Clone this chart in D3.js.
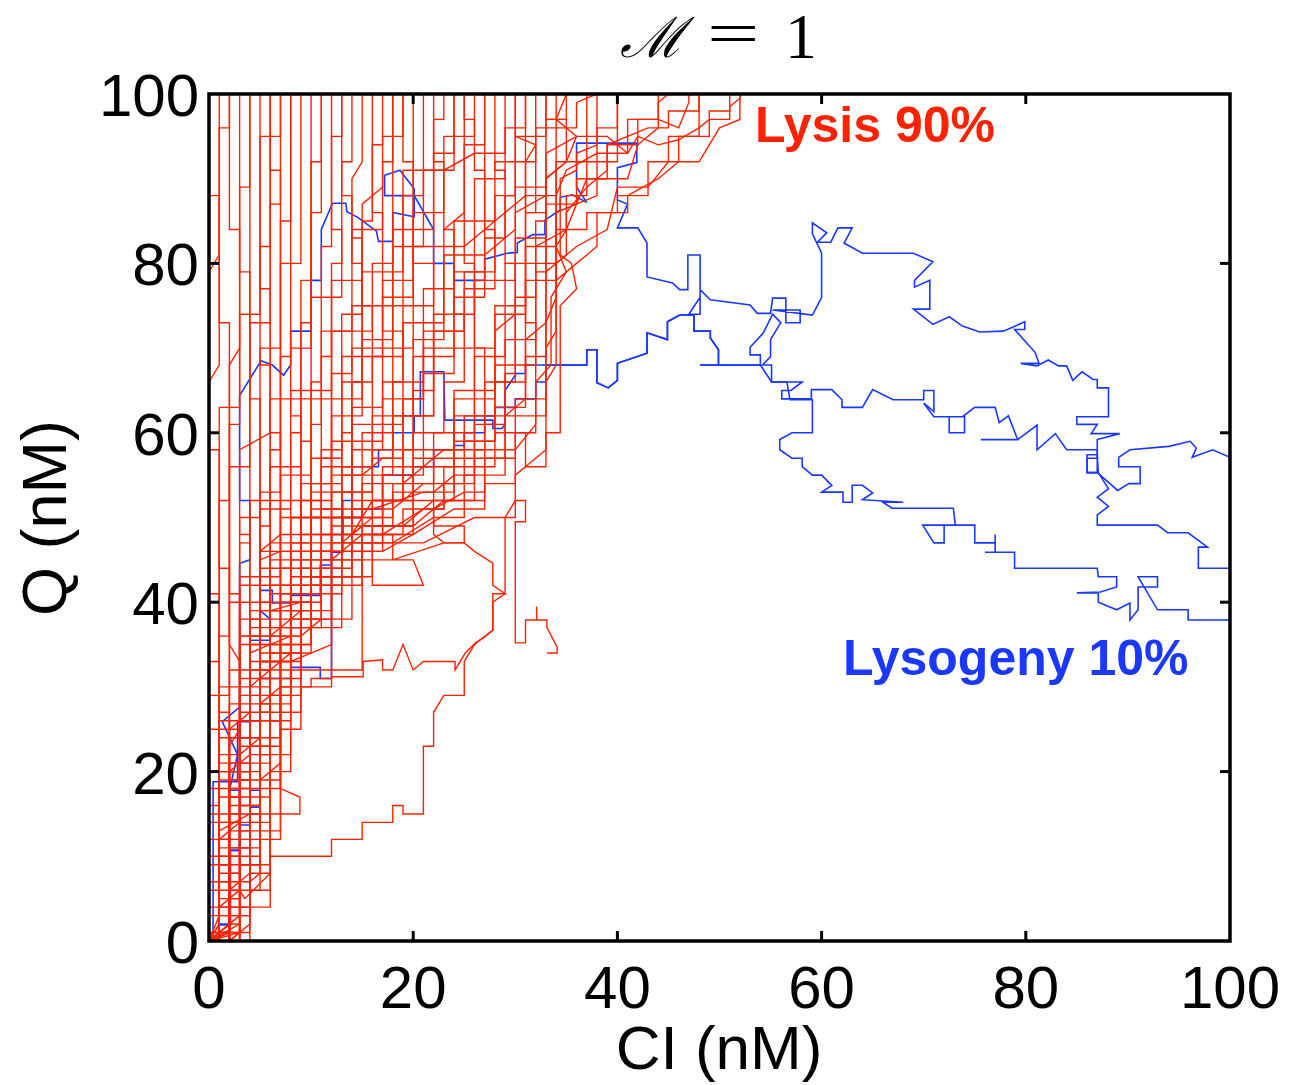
<!DOCTYPE html>
<html>
<head>
<meta charset="utf-8">
<script src="https://cdn.jsdelivr.net/npm/d3@7"></script>
<style>
  body { margin: 0; background: #fff; }
  text { font-family: "Liberation Sans", Arial, sans-serif; }
</style>
</head>
<body>
<script>
// axis ticks and labels
var xTicks = [0, 20, 40, 60, 80, 100];
var yTicks = [0, 20, 40, 60, 80, 100];
var xLabel = "CI (nM)";
var yLabel = "Q (nM)";
var legendLabels = ["Lysis 90%", "Lysogeny 10%"];

// trajectories, flat [CI, Q, CI, Q, ...] lists
var redPaths = [
  [0,0, 0,18, 1,18, 1,41, 0,41, 0,66, 1,68, 1,88, 0,88, 0,100],
  [0,0, 1,0, 1,9, 2,9, 2,27, 1,27, 1,52, 2,52, 2,73, 1,73, 1,100],
  [1,0, 2,0, 2,5, 3,5, 3,33, 2,35, 2,61, 3,61, 3,84, 2,84, 2,100],
  [0,0, 3,0, 3,3, 4,3, 4,21, 3,21, 3,47, 4,47, 4,79, 3,79, 3,100],
  [2,0, 3,1, 3,11, 4,11, 4,37, 5,37, 5,64, 4,64, 4,100],
  [0,1, 1,1, 1,14, 3,14, 3,16, 5,16, 5,49, 6,49, 6,77, 5,77, 5,100],
  [1,0, 1,3, 4,3, 4,7, 5,8, 5,27, 6,27, 6,58, 7,58, 7,91, 6,91, 6,100],
  [0,0, 0,7, 2,7, 2,20, 4,22, 6,22, 6,43, 7,43, 7,69, 8,69, 8,100],
  [3,0, 3,2, 2,2, 2,12, 0,12, 0,33, 1,33, 1,58, 0,58, 0,79, 1,81, 1,96, 2,96, 2,100],
  [0,0, 2,2, 2,23, 3,25, 3,41, 2,41, 2,68, 3,70, 3,89, 4,89, 4,100],
  [1,0, 1,16, 0,16, 0,29, 2,29, 2,44, 1,44, 1,63, 3,63, 3,74, 5,74, 5,95, 7,95, 7,100],
  [0,0, 4,0, 4,14, 6,14, 6,32, 5,32, 5,53, 7,53, 7,80, 9,80, 9,100],
  [2,0, 2,10, 5,10, 5,19, 7,19, 7,30, 8,30, 8,47, 10,47, 10,61, 11,61, 11,82, 12,82, 12,100],
  [0,0, 1,2, 1,24, 4,24, 4,35, 6,35, 6,47, 9,47, 9,59, 10,59, 10,76, 13,76, 13,92, 14,92, 14,100],
  [1,1, 3,1, 3,9, 6,9, 6,26, 8,26, 8,40, 10,40, 10,54, 13,54, 13,66, 15,66, 15,85, 16,85, 16,100],
  [0,0, 0,4, 4,4, 4,12, 7,12, 7,36, 9,36, 11,38, 11,57, 12,57, 12,72, 16,72, 16,80, 18,80, 18,100],
  [2,0, 2,6, 5,6, 5,22, 8,22, 8,33, 12,35, 12,49, 14,49, 14,63, 17,63, 17,78, 20,78, 20,100],
  [0,0, 3,0, 3,13, 7,13, 7,25, 9,25, 9,42, 13,42, 13,56, 16,56, 16,69, 19,69, 19,88, 21,88, 21,100],
  [1,0, 1,12, 4,12, 4,30, 8,34, 10,34, 10,45, 15,45, 15,60, 18,60, 18,75, 22,75, 22,93, 24,93, 24,100],
  [0,0, 2,1, 2,17, 6,17, 6,39, 11,39, 11,48, 14,48, 16,50, 16,58, 20,58, 20,71, 23,71, 23,84, 25,86, 25,100],
  [0,1, 4,1, 4,8, 6,8, 6,29, 9,29, 9,38, 14,38, 14,46, 17,46, 17,55, 21,55, 21,67, 24,67, 24,79, 27,79, 27,100],
  [1,0, 1,5, 3,5, 3,19, 5,19, 7,21, 7,32, 12,32, 12,43, 16,43, 16,52, 19,52, 19,62, 22,62, 22,74, 26,74, 26,90, 29,90, 29,100],
  [0,0, 0,10, 3,10, 3,29, 5,29, 5,44, 8,44, 8,52, 12,52, 12,62, 15,62, 15,71, 18,71, 18,84, 22,84, 22,97, 23,97, 23,100],
  [0,0, 2,0, 2,11, 5,11, 5,34, 9,34, 9,44, 13,44, 13,50, 18,50, 18,54, 22,54, 22,60, 26,60, 26,69, 29,69, 29,80, 31,80, 31,100],
  [1,0, 1,7, 4,7, 4,23, 7,23, 7,38, 12,38, 12,46, 17,46, 20,48, 20,56, 24,56, 24,64, 28,64, 28,72, 30,74, 30,86, 33,88, 33,97, 35,97, 35,100],
  [0,0, 1,1, 1,26, 5,26, 5,40, 10,40, 10,50, 15,50, 15,54, 19,54, 23,58, 27,58, 27,66, 31,66, 31,78, 34,78, 34,92, 37,92, 37,100],
  [2,0, 2,4, 6,4, 6,20, 8,20, 8,37, 13,37, 13,47, 18,47, 22,50, 25,50, 25,55, 29,55, 29,62, 33,62, 33,73, 34,76, 34,86, 38,88, 38,96, 40,96, 40,100],
  [0,0, 3,2, 3,27, 7,27, 7,41, 11,41, 11,51, 16,51, 21,53, 24,53, 24,59, 28,59, 28,68, 32,68, 32,82, 35,84, 37,90, 41,90, 42,94, 44,96, 44,100],
  [1,0, 1,9, 5,9, 5,31, 9,31, 9,43, 14,43, 14,49, 20,49, 23,52, 27,52, 27,57, 30,57, 30,64, 33,64, 33,70, 34,72, 34,80, 36,82, 39,84, 40,89, 43,89, 45,92, 45,95, 48,95, 48,100],
  [0,0, 2,2, 2,21, 6,21, 6,35, 10,35, 10,42, 15,42, 15,47, 21,47, 26,50, 30,50, 30,55, 33,58, 33,66, 34,68, 34,78, 36,80, 38,82, 38,86, 41,86, 41,88, 44,90, 46,92, 48,92, 50,96, 52,97, 52,100],
  [0,0, 3,0, 3,18, 6,18, 6,37, 11,37, 11,56, 14,56, 14,70, 20,70, 20,82, 25,82, 28,85, 31,88, 34,88, 35,91, 38,93, 41,93, 41,97, 44,97, 46,96, 47,99, 47,100],
  [1,0, 1,13, 4,15, 4,33, 8,33, 8,46, 12,46, 12,59, 17,59, 17,66, 21,66, 21,77, 24,77, 24,85, 28,85, 28,92, 32,92, 32,96, 36,96, 36,99, 38,100],
  [0,0, 1,1, 1,4, 3,6, 3.5,5, 6,8, 6,10, 12,10, 12,12, 15,12, 15,14, 18,14, 18,16, 19,16, 19,15, 21,15, 21,23, 22,23, 22,27, 23,29, 25,29, 25,33, 26,35, 27.8,36.7, 27.8,41, 29,41, 27.8,42, 27.8,44.6, 26,46, 25,47, 23,47, 22,48, 22,51, 25,53, 27,53, 27,57, 29,57, 29,62, 31,64, 31,71, 33,73, 33,79, 35,81, 35,86, 37,89, 39,91, 39,94, 43,96, 45,96, 45,98, 48,98, 48,100],
  [0,0, 2,1, 2,6, 4,8, 4,15, 6,15, 8.9,15, 8.9,17, 7,18, 7,27, 9,27, 9,30, 12,30, 12,31.2, 15.1,31.2, 15.1,33, 17,33.2, 17,32, 18,32, 19,35, 20,32, 21,33, 24.1,33, 24.1,32, 25.1,34, 26.1,35.2, 27,35.9, 27.8,36.7, 27.8,40, 29,41, 29,46, 29,50, 30,52, 31,52, 31,49.5, 30,49.5, 30,35.2, 31,35.2, 31,37.9, 32.1,37.9, 32.1,39.5, 32.1,37.9, 33.1,37.9, 33.1,37, 34.1,34.7, 34.1,34, 33.1,34],
  [0,0, 1,2, 1,12, 3,14, 3,22, 5,24, 5,28, 7,30, 10,30, 10,31, 12,31, 12,32, 15,32, 15,45, 20,45, 21,42, 16,42, 16,48, 18,48, 18,45, 23,47, 25,47, 25,49, 22,49, 22,53, 24,55, 26,55, 26,61, 28,61, 28,66, 30,66, 30,76, 32,76, 32,85, 33,85, 33,90, 35,92, 35,97, 33,97, 33,100],
  [0,0, 1,0, 1,15, 3,15, 3,31, 6,31, 6,45, 10,45, 10,53, 14,53, 14,61, 19,61, 19,73, 23,73, 23,81, 27,81, 30,84, 30,89, 33,89, 33,93, 36,95, 39,95, 41,93, 42,95, 44,94, 46,94.6, 48,96, 49,97, 51,97, 51,98.5, 52,99.5, 52,100],
  [0,0, 0,3, 2,3, 2,19, 4,19, 4,39, 7,39, 7,50, 11,50, 11,64, 15,64, 15,79, 19,79, 19,91, 23,91, 26,93, 29,93, 29,96, 31,96, 31,100],
  [2,0, 2,8, 3,8, 3,38, 5,38, 5,51, 8,51, 8,65, 12,65, 12,78, 15,78, 15,87, 17,89, 17,95, 19,95, 19,100],
  [0,0, 2,0, 2,16, 5,16, 5,33, 9,33, 9,41, 13,41, 13,48, 17,48, 21,51, 23,51, 23,56, 28,56, 28,60, 31,60, 31,56, 33,56, 33,60, 34.4,60, 34.4,75, 36,77, 35.5,80, 34.4,81, 34.4,90, 36,91, 36,93, 38,94, 38,100],
  [1,0, 1,6, 3,6, 3,26, 7,26, 7,35, 10,35, 10,43, 15,43, 15,49, 20,49, 20,52, 26,52, 26,58, 30,58, 32,61, 32,66, 33.5,68, 33.5,76, 35,79, 34,82, 35,84, 35,88, 37,88, 37,92, 40,92, 40,100],
  [0,0, 0,14, 2,14, 2,32, 6,32, 6,42, 9,42, 9,50, 14,50, 14,58, 17,58, 17,64, 21,64, 21,72, 25,72, 25,77, 28,77, 28,88, 30,88, 30,95, 33,95, 33,100],
  [1,0, 1,17, 3,17, 3,36, 7,36, 7,48, 10,48, 10,57, 13,57, 13,69, 17,69, 17,76, 20,76, 20,86, 23,86, 23,95, 26,95, 26,100],
  [0,0, 3,1, 3,24, 5,24, 5,46, 9,46, 9,54, 12,54, 12,67, 14,67, 14,75, 18,75, 18,82, 21,82, 21,91, 24,91, 24,100],
  [2,0, 2,13, 4,13, 4,29, 8,29, 8,39, 12,39, 12,53, 16,53, 16,62, 20,62, 20,69, 24,69, 24,76, 27,76, 27,83, 29,83, 29,91, 28,91, 28,100],
  [0,0, 1,3, 1,21, 3,21, 3,43, 6,43, 6,56, 9,56, 9,64, 11,64, 11,72, 14,72, 14,84, 17,84, 17,92, 18,92, 18,100],
  [0,0, 1,0, 1,10, 2,10, 2,25, 4,27, 4,40, 6,40, 6,52, 8,52, 8,60, 9,60, 9,62, 8,62, 8,70, 9,70, 9,73, 10,73, 10,86, 11,86, 11,100],
  [0,0, 0,6, 1,6, 1,22, 3,22, 3,36, 5,36, 5,45, 7,46, 7,55, 10,55, 10,66, 11,66, 11,69, 12,69, 12,80, 13,80, 13,84, 12,84, 12,95, 13,95, 13,100],
  [1,0, 1,4, 2,4, 2,18, 4,18, 4,32, 7,32, 7,44, 10,44, 10,51, 13,51, 13,60, 14,60, 14,66, 16,66, 16,75, 15,75, 15,83, 14,83, 14,90, 15,92, 15,100],
  [0,0, 2,0, 2,14, 5,14, 5,28, 8,28, 8,42, 11,42, 11,46, 13,46, 13,53, 16,53, 16,57, 18,57, 18,66, 19,66, 19,72, 17,72, 17,86, 16,86, 16,94, 17,94, 17,100],
  [1,0, 1,8, 3,8, 3,23, 6,23, 6,36, 9,39, 9,48, 12,48, 12,55, 15,55, 17,57, 19,57, 19,64, 21,64, 21,70, 22,70, 22,80, 20,80, 20,92, 19,92, 19,100],
  [0,0, 1,1, 1,19, 4,19, 4,34, 8,36, 8,43, 12,43, 12,47, 17,47, 17,52, 20,52, 20,60, 23,60, 23,66, 25,66, 25,74, 24,74, 24,84, 23,84, 23,92, 22,92, 22,100],
  [2,0, 2,15, 5,15, 5,37, 9,37, 9,47, 13,47, 15,49, 18,49, 18,53, 22,53, 22,58, 25,58, 25,62, 27,62, 27,70, 26,70, 26,80, 25,80, 25,94, 27,94, 27,100],
  [0,0, 0,9, 2,9, 2,28, 6,28, 6,41, 10,41, 10,46, 16,46, 16,49, 19,49, 22,52, 24,52, 24,57, 27,57, 27,61, 29,61, 29,67, 30,67, 30,80, 29,80, 29,88, 30,88, 30,100],
  [1,0, 1,11, 4,11, 4,26, 7,26, 7,40, 11,40, 11,45, 15,45, 15,48, 20,48, 24,51, 27,51, 27,54, 30,54, 30,60, 32,60, 32,73, 31,73, 31,86, 32,86, 32,100],
  [0,0, 2,1, 2,20, 5,20, 5,33, 8,33, 8,38, 11,38, 11,44, 14,44, 14,51, 18,51, 21,54, 25,54, 25,59, 28,59, 28,63, 31,63, 31,69, 33,69, 33,82, 34,82, 34,97, 35,100],
  [0,0, 0,15, 1,15, 1,30, 3,30, 3,50, 5,50, 5,70, 7,70, 7,85, 8,85, 8,100],
  [2,0, 2,3, 3,3, 3,20, 4,20, 4,52, 6,52, 6,68, 5,68, 5,82, 6,82, 6,100],
  [0,0, 1,0, 1,36, 2,36, 2,56, 4,56, 4,73, 6,73, 6,87, 7,87, 7,100],
  [1,1, 2,1, 2,40, 4,40, 4,48, 3,48, 3,58, 6,60, 6,64, 9,64, 9,78, 10,78, 10,92, 11,92, 11,100],
  [0,0, 3,0, 3,30, 6,30, 6,39, 9,40, 9,52, 11,52, 11,58, 13,58, 13,74, 15,74, 15,80, 14,80, 14,88, 13,88, 13,100],
  [0,0, 2,0, 2,24, 5,24, 5,39, 10,39, 10,48, 14,48, 16,52, 20,52, 20,57, 24,57, 24,62, 26,62, 26,70, 28,70, 28,75, 31,75, 31,82, 33,82, 33,90, 35,92, 36,95, 34,97, 34,100],
  [1,0, 1,18, 3,18, 3,35, 8,35, 8,45, 12,45, 15,48, 19,48, 19,51, 23,51, 23,54, 26,54, 26,62, 29,62, 29,71, 32,71, 32,79, 33,79, 33,86, 31,86, 31,92, 32,94, 30,95, 30,100],
  [0,0, 0,20, 4,20, 4,38, 7,38, 7,46, 12,46, 12,50, 17,50, 17,56, 20,56, 20,65, 22,65, 22,72, 25,72, 25,79, 28,79, 28,84, 27,84, 27,91, 26,91, 26,97, 25,97, 25,100],
  [2,0, 4,2, 4,6, 6,6, 6,18, 7,18, 7,29, 6,29, 6,34, 8,34, 8,50, 9,50, 9,70, 10,70, 10,100],
  [0,0, 3,3, 3,9, 5,9, 5,24, 7,24, 7,33, 5,33, 5,46, 7,48, 7,60, 6,60, 6,100],
  [1,0, 1,20, 4,20, 4,36, 9,36, 9,46, 14,46, 14,52, 19,52, 19,58, 24,58, 24,65, 28,65, 28,74, 31,74, 31,80, 34,80, 34,84, 37,84, 37,86, 40,86, 40,88, 43,88, 43,92, 46,92, 46,95, 49,95, 49,98, 51,98, 51,100],
  [0,0, 0,25, 3,25, 3,42, 8,42, 8,50, 13,50, 13,55, 18,55, 18,62, 22,62, 22,70, 26,70, 26,78, 30,78, 30,83, 33,83, 33,87, 36,87, 36,90, 39,90, 39,94, 42,94, 42,97, 44,97, 44,99, 45,100]
];

var bluePaths = [
  // upper branch, ends near Q = 44
  [0,0, 1,0, 1,2, 2,2, 2,10.7, 3,10.7, 3,17.8, 2,17.8, 2.8,22, 1.3,25.9, 3,27.6, 3,44.6, 4,45, 4,52, 3,52, 3,64.4, 5.1,68.5, 6.2,68, 7.3,66.8, 8,68, 8,72, 10,72, 10,78, 11,78, 11,84, 12.1,87.1, 13.4,87.1, 13.5,86.1, 14.6,85.4, 16.4,83.8, 16.6,82.6, 18,82.6, 18,86, 20.1,85.5, 20.1,88.8, 18.7,91, 17.2,90.4, 17.2,88, 20.1,88, 22,84, 22,80, 24,80, 24,78, 27,78, 27,80.5, 29.2,81.2, 30.2,81.3, 30.2,82.4, 31.7,83.4, 32.9,83.4, 32.9,85.1, 34.4,86.3, 34.4,87.8, 35.6,88.1, 37,87.2, 36,89, 36,94.2, 41.9,94.2, 41.9,91.9, 40,91.3, 40,87.5, 41,87, 40,84.2, 42,84.2, 42.9,82.4, 42.9,78.4, 45.4,77.7, 46.1,76.9, 46.9,76.9, 46.9,81, 48.1,81, 48.1,76, 47,74, 48.1,74, 48.1,76.9, 49.1,75.7, 53,75.1, 53.7,74.1, 55,74.1, 55.2,75.9, 56.5,75.9, 56.5,73, 57.9,73, 57.9,74.5, 55.2,74.5, 59.1,73.9, 60,76, 60,81.2, 59.1,83.5, 59.1,84.8, 60.5,83.6, 59.6,82.5, 60.9,82.5, 61.6,84.2, 63,84.2, 62.2,82.4, 64,81.2, 69,81.2, 70.9,80.2, 69.1,78, 69.1,77.2, 70.6,78, 70.6,74.6, 69,74.6, 70.9,72.8, 72.5,73.7, 73.8,72.6, 75.5,71.9, 77.8,72, 79.9,73.1, 79.9,72.2, 78.9,72.2, 80.9,69.5, 81.3,68.2, 79.5,68.2, 81.1,67.9, 82.2,68.6, 83.2,67.9, 84,67.9, 84.6,66.2, 85.5,67.2, 86.6,66.3, 87,66.3, 87,65.3, 88.1,65.3, 88.1,61.9, 85,61.9, 85,61, 87,61, 86.4,59.9, 89.2,59.9, 87,59.2, 87,55.3, 86,55.3, 86,57.4, 87,57.4, 87.1,55.3, 88.1,53.4, 87,52.4, 88.1,51.3, 87,50.3, 87,49.1, 92.9,49.1, 93.9,48.2, 95.9,48.2, 97.8,46.5, 96.9,46.5, 96.9,44, 100,44],
  // middle branch, ends near Q = 57
  [0,0, 1,0, 1,1.9, 2.1,1.9, 2.1,10.7, 3,10.7, 3,13.7, 4,13.7, 4,15.8, 5,15.8, 5,17.8, 4,17.8, 4,26, 5,26, 5,31, 8,31, 8,32.3, 10.9,32.3, 10.9,31, 12,31, 12,45.9, 13.1,45.9, 13.1,52, 14,52, 14,56, 16.6,56, 16.6,58, 18,58, 18,60, 20.1,60, 20.1,62, 20.7,62, 20.7,67.2, 23,67.2, 23.1,61.5, 27.8,61.5, 27.8,60.5, 28.7,60.5, 29,61, 29,65, 30.1,67, 31,67, 31,68, 34.1,68, 37,68, 37,69.8, 38,69.8, 38,65.9, 39.1,65.3, 40,66.2, 40,68.2, 42.9,69.4, 42.9,71.8, 44.9,71, 44.9,73.1, 46.1,73.9, 47.5,73.9, 47.5,72, 49.1,72, 49.1,71.2, 49.9,69.8, 49.9,68, 48.1,68, 54,68, 54,69.2, 53,69.2, 53,70.1, 54.3,71.8, 55.2,74, 56,73, 55,71, 55,69, 54.2,68, 55.1,68, 55.1,66, 58.1,66, 57,65, 56.1,65, 56.1,64, 59,64, 59,65.1, 61,65.1, 62,63.9, 62,63, 64,63, 65,65.1, 67,63.9, 70,63.9, 70,65, 71,65, 71,62.5, 70,63.5, 71,61.9, 74,61.9, 74,60, 72.5,60, 72.5,61.9, 73.8,61.9, 75,63, 77,63, 77.4,61.2, 78.3,62, 79.2,59.2, 75.6,59.2, 79.2,59.2, 81.1,60.9, 81.1,58, 82.9,59.9, 84,58, 87,58, 87,57, 86,57, 86,55.3, 87,55.3, 89,53.2, 90.1,54, 91.2,54, 91.2,56, 89.1,56, 89.1,57.1, 90.2,58, 94,58.4, 96.1,59, 96.7,58.2, 96.3,57.1, 98.3,58, 100,57.1],
  // lower branch, ends near Q = 38
  [0,0, 0.4,0, 0.4,18.8, 2.8,18.8, 2.8,25.9, 4,25.9, 4,35.5, 6,35.5, 6,38, 5,39, 5,41.4, 6.2,41.4, 6.2,39.9, 8,39.9, 8,40.8, 10.9,40.8, 10.9,44.4, 12,44.4, 12,48, 13.1,48, 13.1,50, 15,50, 15,51, 17,51, 17,55, 20,55, 20,56, 22,56, 22,58, 24,58, 24,58.5, 25,58.5, 25,60, 27,60, 27,62, 28,62, 28,63, 30,63, 30,64, 32,64, 32,66, 33,66, 33,68, 34.1,68, 37,68, 37,69.8, 38,69.8, 38,65.9, 39.1,65.3, 40,66.2, 40,68.2, 42.9,69.4, 42.9,71.8, 44.9,71, 44.9,73.1, 46.1,73.9, 47.5,73.9, 47.5,72, 49.1,72, 49.1,71.2, 49.9,69.8, 49.9,68, 48.1,68, 54,68, 55.1,66, 56.6,66, 56.9,63.9, 58.1,63.9, 59.1,63.9, 59.1,60, 57.1,60, 55.9,59.2, 55.9,58, 57.1,57, 58.1,57, 58.1,56, 59.1,55, 60,55, 61,53.8, 60,53, 62.1,53, 62.1,51.8, 63,51.8, 63,53.8, 64,53.8, 65,52.9, 64,52.1, 68,51.8, 66,51.8, 66.9,51.1, 72.9,51.1, 73.1,49.1, 69.9,49.1, 71,47, 72,47, 72,49.1, 75,49.1, 75,47, 77,47, 77,48, 77,45.9, 76,45.9, 78.9,45.9, 78.9,44, 87,44, 87.1,43, 88.9,43, 88.9,41.8, 87.3,41.2, 85,41.1, 87.1,41.1, 87.1,40, 88.9,39.1, 90.2,39.9, 90.2,37.9, 91,39.1, 91,41.8, 92.9,41.8, 92.9,43, 91,43, 92.9,39.1, 94.8,39.1, 95.9,39.1, 95.9,37.9, 100,37.9]
];

var redColor = "#ff2200";
var blueColor = "#1a38ff";

var w = 1289, h = 1085;
var plotLeft = 209, plotRight = 1230, plotTop = 94, plotBottom = 941;

var svg = d3.select("body").append("svg")
    .attr("width", w)
    .attr("height", h);

var x = d3.scaleLinear().domain([0, 100]).range([plotLeft, plotRight]);
var y = d3.scaleLinear().domain([0, 100]).range([plotBottom, plotTop]);

svg.append("clipPath").attr("id", "plotclip")
  .append("rect")
    .attr("x", plotLeft).attr("y", plotTop)
    .attr("width", plotRight - plotLeft).attr("height", plotBottom - plotTop);

// turn flat list into point pairs
function pairs(a) {
  var out = [];
  for (var i = 0; i < a.length; i += 2) out.push([a[i], a[i + 1]]);
  return out;
}

var line = d3.line()
    .x(function(d) { return x(d[0]); })
    .y(function(d) { return y(d[1]); });

var traj = svg.append("g").attr("clip-path", "url(#plotclip)");

traj.selectAll("path.blue")
  .data(bluePaths)
  .enter().append("path")
    .attr("class", "blue")
    .attr("d", function(d) { return line(pairs(d)); })
    .attr("fill", "none")
    .attr("stroke", blueColor)
    .attr("stroke-width", 1.6);

traj.selectAll("path.red")
  .data(redPaths)
  .enter().append("path")
    .attr("class", "red")
    .attr("d", function(d) { return line(pairs(d)); })
    .attr("fill", "none")
    .attr("stroke", redColor)
    .attr("stroke-width", 1.4);

// box frame with inward ticks on all four sides
var frame = svg.append("g");
frame.append("rect")
    .attr("x", plotLeft).attr("y", plotTop)
    .attr("width", plotRight - plotLeft).attr("height", plotBottom - plotTop)
    .attr("fill", "none").attr("stroke", "#000").attr("stroke-width", 3.5);

xTicks.slice(1, -1).forEach(function(t) {
  frame.append("line").attr("x1", x(t)).attr("x2", x(t))
    .attr("y1", plotBottom).attr("y2", plotBottom - 10)
    .attr("stroke", "#000").attr("stroke-width", 3);
  frame.append("line").attr("x1", x(t)).attr("x2", x(t))
    .attr("y1", plotTop).attr("y2", plotTop + 10)
    .attr("stroke", "#000").attr("stroke-width", 3);
});
yTicks.slice(1, -1).forEach(function(t) {
  frame.append("line").attr("y1", y(t)).attr("y2", y(t))
    .attr("x1", plotLeft).attr("x2", plotLeft + 10)
    .attr("stroke", "#000").attr("stroke-width", 3);
  frame.append("line").attr("y1", y(t)).attr("y2", y(t))
    .attr("x1", plotRight).attr("x2", plotRight - 10)
    .attr("stroke", "#000").attr("stroke-width", 3);
});

// tick labels
svg.append("g").selectAll("text")
  .data(xTicks)
  .enter().append("text")
    .attr("x", function(d) { return x(d); })
    .attr("y", 1008)
    .attr("text-anchor", "middle")
    .attr("font-size", 60)
    .text(function(d) { return d; });

svg.append("g").selectAll("text")
  .data(yTicks)
  .enter().append("text")
    .attr("x", 199)
    .attr("y", function(d) { return y(d) + 22; })
    .attr("text-anchor", "end")
    .attr("font-size", 60)
    .text(function(d) { return d; });

// axis titles
svg.append("text")
    .attr("x", 719).attr("y", 1069)
    .attr("text-anchor", "middle")
    .attr("font-size", 62)
    .text(xLabel);

svg.append("text")
    .attr("transform", "translate(66,518) rotate(-90)")
    .attr("text-anchor", "middle")
    .attr("font-size", 63)
    .text(yLabel);

// title M = 1, pieces placed like the typeset original
var serif = "'Liberation Serif', 'DejaVu Serif', serif";
svg.append("text")
    .attr("x", 620).attr("y", 57)
    .attr("font-size", 56)
    .style("font-family", serif).style("font-style", "italic")
    .text("\u2133");
svg.append("text")
    .attr("transform", "translate(707,54) scale(1.5,1)")
    .attr("font-size", 62)
    .style("font-family", serif)
    .text("=");
svg.append("text")
    .attr("x", 785).attr("y", 58)
    .attr("font-size", 64)
    .style("font-family", serif)
    .text("1");

// outcome labels
svg.append("text")
    .attr("x", 755).attr("y", 142)
    .attr("font-size", 50).attr("font-weight", "bold")
    .attr("fill", redColor)
    .text(legendLabels[0]);

svg.append("text")
    .attr("x", 843).attr("y", 675)
    .attr("font-size", 50).attr("font-weight", "bold")
    .attr("fill", blueColor)
    .text(legendLabels[1]);
</script>
</body>
</html>
